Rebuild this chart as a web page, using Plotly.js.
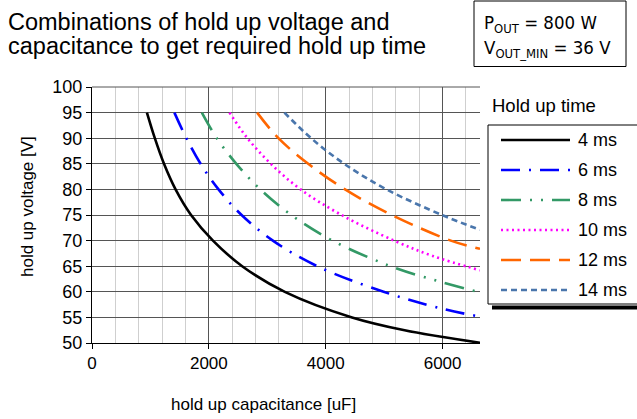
<!DOCTYPE html>
<html>
<head>
<meta charset="utf-8">
<script src="https://cdn.plot.ly/plotly-3.0.1.min.js"></script>
<style>html,body{margin:0;padding:0;background:#fff;}#chart{width:637px;height:419px;}</style>
</head>
<body>
<div id="chart"></div>
<script>
// Hold up time series (capacitance in uF, voltage in V)
const seriesNames = ['4 ms', '6 ms', '8 ms', '10 ms', '12 ms', '14 ms'];

const v4  = [95, 90, 85, 80, 75, 70, 65, 60, 55, 52.5, 50.05];
const c4  = [940, 1075, 1232, 1430, 1695, 2070, 2570, 3300, 4450, 5350, 6640];

const v6  = [95, 90, 85, 80, 75, 70, 65, 60, 56.7, 55.15];
const c6  = [1410, 1615, 1858, 2165, 2560, 3095, 3855, 4990, 5990, 6640];

const v8  = [95, 90, 85, 80, 75, 70, 65, 62, 59.9];
const c8  = [1880, 2135, 2470, 2880, 3410, 4115, 5110, 5950, 6640];

const v10 = [95, 90, 85, 80, 75, 70, 67, 64.2];
const c10 = [2353, 2660, 3060, 3570, 4270, 5170, 5830, 6640];

const v12 = [95, 90, 85, 80, 75, 70, 68.4];
const c12 = [2826, 3190, 3700, 4330, 5130, 6140, 6640];

const v14 = [95, 90, 85, 80, 75, 72.1];
const c14 = [3293, 3750, 4315, 5040, 5990, 6640];

const xTickVals = [0, 2000, 4000, 6000];
const yTickVals = [50, 55, 60, 65, 70, 75, 80, 85, 90, 95, 100];

const allX = [c4, c6, c8, c10, c12, c14];
const allY = [v4, v6, v8, v10, v12, v14];
const colors = ['#000000', '#0000FF', '#339966', '#FF00FF', '#FF6600', '#4A76AC'];
const dashes = ['solid', '19px,9px,2px,9px', '20px,9px,2px,9px,2px,9px', '2px,3.5px', '20px,9px', '6px,4px'];

const traces = seriesNames.map((n, i) => ({
  type: 'scatter', mode: 'lines', name: n,
  x: allX[i], y: allY[i],
  showlegend: false,
  line: {color: colors[i], width: 2.6, dash: dashes[i], shape: 'spline', smoothing: 1}
}));

// pixel helpers for plot-area geometry
const L = 92, R = 480, T = 87, B = 343;
const px = p => (p - L) / (R - L);
const py = p => (B - p) / (B - T);

const FONT = 'Liberation Sans, Arial, sans-serif';
const NARROW = 'Liberation Sans Narrow, DejaVu Sans Condensed, Arial Narrow, sans-serif';

const shapes = [
  // top border line at 100
  {type: 'line', xref: 'paper', yref: 'paper', x0: 0, x1: 1, y0: 1, y1: 1, line: {color: '#555', width: 1}},
  // legend box
  {type: 'rect', xref: 'paper', yref: 'paper', x0: px(488), x1: px(660), y0: py(125), y1: py(304), line: {color: '#000', width: 1}, fillcolor: 'rgba(0,0,0,0)'},
  // legend shadow
  {type: 'line', xref: 'paper', yref: 'paper', x0: px(492), x1: px(660), y0: py(307.5), y1: py(307.5), line: {color: '#000', width: 4}},
  // info box
  {type: 'rect', xref: 'paper', yref: 'paper', x0: px(474), x1: px(626), y0: py(1), y1: py(66.5), line: {color: '#000', width: 1}, fillcolor: '#fff'}
];

const annotations = [
  {xref: 'paper', yref: 'paper', x: px(6), y: py(7), xanchor: 'left', yanchor: 'top', showarrow: false,
   text: 'Combinations of hold up voltage and', font: {family: FONT, size: 23.5}},
  {xref: 'paper', yref: 'paper', x: px(6), y: py(31), xanchor: 'left', yanchor: 'top', showarrow: false,
   text: 'capacitance to get required hold up time', font: {family: FONT, size: 23.5}},
  {xref: 'paper', yref: 'paper', x: px(482), y: py(24), xanchor: 'left', yanchor: 'middle', showarrow: false,
   text: 'P<sub>OUT</sub> = 800 W', font: {family: NARROW, size: 18.5}},
  {xref: 'paper', yref: 'paper', x: px(482), y: py(49), xanchor: 'left', yanchor: 'middle', showarrow: false,
   text: 'V<sub>OUT_MIN</sub> = 36 V', font: {family: NARROW, size: 18.5}},
  {xref: 'paper', yref: 'paper', x: px(490), y: py(105), xanchor: 'left', yanchor: 'middle', showarrow: false,
   text: 'Hold up time', font: {family: FONT, size: 18.5}},
  {xref: 'paper', yref: 'paper', x: px(263), y: py(404), xanchor: 'center', yanchor: 'middle', showarrow: false,
   text: 'hold up capacitance [uF]', font: {family: FONT, size: 17}},
  {xref: 'paper', yref: 'paper', x: px(27), y: py(207), xanchor: 'center', yanchor: 'middle', showarrow: false,
   text: 'hold up voltage [V]', textangle: -90, font: {family: FONT, size: 17}}
];

// legend entries (sample line + label)
seriesNames.forEach((n, i) => {
  const yc = 140 + 30 * i;
  shapes.push({type: 'line', xref: 'paper', yref: 'paper', x0: px(501), x1: px(570), y0: py(yc), y1: py(yc),
    line: {color: colors[i], width: 2.6, dash: dashes[i]}});
  annotations.push({xref: 'paper', yref: 'paper', x: px(576), y: py(yc), xanchor: 'left', yanchor: 'middle',
    showarrow: false, text: n, font: {family: FONT, size: 18}});
});

const layout = {
  width: 637, height: 419,
  margin: {l: L, r: 637 - R, t: T, b: 419 - B, pad: 0},
  paper_bgcolor: '#fff', plot_bgcolor: '#fff',
  font: {family: FONT, size: 17, color: '#000'},
  showlegend: false,
  xaxis: {
    range: [0, 6640], tickvals: xTickVals, ticktext: xTickVals.map(String),
    showgrid: true, gridcolor: '#555', gridwidth: 1,
    minor: {dtick: 400, tick0: 0, showgrid: true, gridcolor: '#cfcfcf', gridwidth: 1, ticks: ''},
    showline: true, linecolor: '#000', linewidth: 1,
    ticks: 'outside', ticklen: 5, tickcolor: '#000',
    zeroline: false, tickfont: {family: FONT, size: 17}
  },
  yaxis: {
    range: [50, 100], tickvals: yTickVals, ticktext: yTickVals.map(String),
    showgrid: true, gridcolor: '#555', gridwidth: 1,
    showline: true, linecolor: '#000', linewidth: 1,
    ticks: 'outside', ticklen: 5, tickcolor: '#000',
    zeroline: false, tickfont: {family: FONT, size: 18}
  },
  shapes: shapes,
  annotations: annotations
};

Plotly.newPlot('chart', traces, layout, {displayModeBar: false, staticPlot: true});
</script>
</body>
</html>
